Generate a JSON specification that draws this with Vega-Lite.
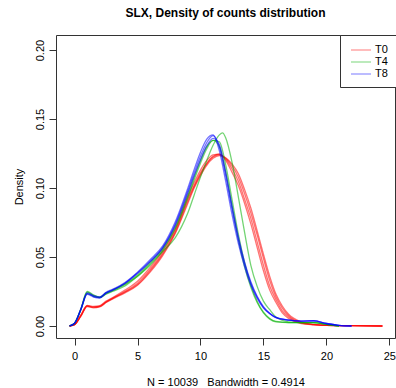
{
  "$schema": "https://vega.github.io/schema/vega-lite/v6.json",
  "width": 339,
  "height": 303,
  "autosize": "none",
  "padding": {"left": 56, "top": 35, "right": 1, "bottom": 50},
  "background": "white",
  "config": {
    "font": "Liberation Sans",
    "view": {"stroke": "#333", "strokeWidth": 1},
    "axis": {"grid": false, "domain": false, "tickColor": "#333", "tickSize": 7, "labelFont": "Liberation Sans", "titleFont": "Liberation Sans", "labelFontSize": 11, "titleFontSize": 11, "labelColor": "#000", "titleColor": "#000", "titleFontWeight": "normal"}
  },
  "title": {"text": "SLX, Density of counts distribution", "font": "Liberation Sans", "fontSize": 12, "fontWeight": "bold", "color": "#000", "offset": 15},
  "datasets": {
    "d": [
      {"s":"R1","g":"T0","x":-0.4,"y":0},{"s":"R1","g":"T0","x":0,"y":0.001},{"s":"R1","g":"T0","x":0.5,"y":0.0075},{"s":"R1","g":"T0","x":1,"y":0.0145},{"s":"R1","g":"T0","x":1.5,"y":0.0137},{"s":"R1","g":"T0","x":2,"y":0.0143},{"s":"R1","g":"T0","x":2.5,"y":0.0175},{"s":"R1","g":"T0","x":3,"y":0.02},{"s":"R1","g":"T0","x":4,"y":0.025},{"s":"R1","g":"T0","x":5,"y":0.031},{"s":"R1","g":"T0","x":6,"y":0.041},{"s":"R1","g":"T0","x":7,"y":0.053},{"s":"R1","g":"T0","x":8,"y":0.069},{"s":"R1","g":"T0","x":9,"y":0.092},{"s":"R1","g":"T0","x":9.5,"y":0.102},{"s":"R1","g":"T0","x":10,"y":0.111},{"s":"R1","g":"T0","x":10.5,"y":0.118},{"s":"R1","g":"T0","x":11,"y":0.123},{"s":"R1","g":"T0","x":11.5,"y":0.1245},{"s":"R1","g":"T0","x":12,"y":0.121},{"s":"R1","g":"T0","x":12.5,"y":0.114},{"s":"R1","g":"T0","x":13,"y":0.105},{"s":"R1","g":"T0","x":13.5,"y":0.092},{"s":"R1","g":"T0","x":14,"y":0.078},{"s":"R1","g":"T0","x":14.5,"y":0.061},{"s":"R1","g":"T0","x":15,"y":0.044},{"s":"R1","g":"T0","x":15.5,"y":0.029},{"s":"R1","g":"T0","x":16,"y":0.019},{"s":"R1","g":"T0","x":16.5,"y":0.011},{"s":"R1","g":"T0","x":17,"y":0.0065},{"s":"R1","g":"T0","x":18,"y":0.002},{"s":"R1","g":"T0","x":19,"y":0.001},{"s":"R1","g":"T0","x":20,"y":0.0004},{"s":"R1","g":"T0","x":22,"y":0.0002},{"s":"R1","g":"T0","x":24.45,"y":0},
      {"s":"R2","g":"T0","x":-0.4,"y":0},{"s":"R2","g":"T0","x":0,"y":0.001},{"s":"R2","g":"T0","x":0.5,"y":0.007},{"s":"R2","g":"T0","x":1,"y":0.014},{"s":"R2","g":"T0","x":1.5,"y":0.0132},{"s":"R2","g":"T0","x":2,"y":0.0138},{"s":"R2","g":"T0","x":2.5,"y":0.017},{"s":"R2","g":"T0","x":3,"y":0.0195},{"s":"R2","g":"T0","x":4,"y":0.024},{"s":"R2","g":"T0","x":5,"y":0.0295},{"s":"R2","g":"T0","x":6,"y":0.039},{"s":"R2","g":"T0","x":7,"y":0.051},{"s":"R2","g":"T0","x":8,"y":0.067},{"s":"R2","g":"T0","x":9,"y":0.089},{"s":"R2","g":"T0","x":9.5,"y":0.1},{"s":"R2","g":"T0","x":10,"y":0.109},{"s":"R2","g":"T0","x":10.5,"y":0.1165},{"s":"R2","g":"T0","x":11,"y":0.1215},{"s":"R2","g":"T0","x":11.5,"y":0.1235},{"s":"R2","g":"T0","x":12,"y":0.1215},{"s":"R2","g":"T0","x":12.5,"y":0.116},{"s":"R2","g":"T0","x":13,"y":0.108},{"s":"R2","g":"T0","x":13.5,"y":0.096},{"s":"R2","g":"T0","x":14,"y":0.082},{"s":"R2","g":"T0","x":14.5,"y":0.066},{"s":"R2","g":"T0","x":15,"y":0.049},{"s":"R2","g":"T0","x":15.5,"y":0.033},{"s":"R2","g":"T0","x":16,"y":0.021},{"s":"R2","g":"T0","x":16.5,"y":0.013},{"s":"R2","g":"T0","x":17,"y":0.0075},{"s":"R2","g":"T0","x":18,"y":0.0025},{"s":"R2","g":"T0","x":19,"y":0.001},{"s":"R2","g":"T0","x":20,"y":0.0004},{"s":"R2","g":"T0","x":22,"y":0.0002},{"s":"R2","g":"T0","x":24.45,"y":0},
      {"s":"R3","g":"T0","x":-0.4,"y":0},{"s":"R3","g":"T0","x":0,"y":0.001},{"s":"R3","g":"T0","x":0.5,"y":0.008},{"s":"R3","g":"T0","x":1,"y":0.015},{"s":"R3","g":"T0","x":1.5,"y":0.0142},{"s":"R3","g":"T0","x":2,"y":0.0148},{"s":"R3","g":"T0","x":2.5,"y":0.018},{"s":"R3","g":"T0","x":3,"y":0.0205},{"s":"R3","g":"T0","x":4,"y":0.026},{"s":"R3","g":"T0","x":5,"y":0.0325},{"s":"R3","g":"T0","x":6,"y":0.0425},{"s":"R3","g":"T0","x":7,"y":0.0545},{"s":"R3","g":"T0","x":8,"y":0.0705},{"s":"R3","g":"T0","x":9,"y":0.094},{"s":"R3","g":"T0","x":9.5,"y":0.104},{"s":"R3","g":"T0","x":10,"y":0.113},{"s":"R3","g":"T0","x":10.5,"y":0.12},{"s":"R3","g":"T0","x":11,"y":0.124},{"s":"R3","g":"T0","x":11.5,"y":0.1245},{"s":"R3","g":"T0","x":12,"y":0.12},{"s":"R3","g":"T0","x":12.5,"y":0.1115},{"s":"R3","g":"T0","x":13,"y":0.102},{"s":"R3","g":"T0","x":13.5,"y":0.089},{"s":"R3","g":"T0","x":14,"y":0.074},{"s":"R3","g":"T0","x":14.5,"y":0.057},{"s":"R3","g":"T0","x":15,"y":0.04},{"s":"R3","g":"T0","x":15.5,"y":0.026},{"s":"R3","g":"T0","x":16,"y":0.017},{"s":"R3","g":"T0","x":16.5,"y":0.0095},{"s":"R3","g":"T0","x":17,"y":0.0055},{"s":"R3","g":"T0","x":18,"y":0.0018},{"s":"R3","g":"T0","x":19,"y":0.0009},{"s":"R3","g":"T0","x":20,"y":0.0004},{"s":"R3","g":"T0","x":22,"y":0.0002},{"s":"R3","g":"T0","x":24.45,"y":0},
      {"s":"R4","g":"T0","x":-0.4,"y":0},{"s":"R4","g":"T0","x":0,"y":0.001},{"s":"R4","g":"T0","x":0.5,"y":0.0075},{"s":"R4","g":"T0","x":1,"y":0.0145},{"s":"R4","g":"T0","x":1.5,"y":0.0137},{"s":"R4","g":"T0","x":2,"y":0.0143},{"s":"R4","g":"T0","x":2.5,"y":0.0172},{"s":"R4","g":"T0","x":3,"y":0.0198},{"s":"R4","g":"T0","x":4,"y":0.0245},{"s":"R4","g":"T0","x":5,"y":0.03},{"s":"R4","g":"T0","x":6,"y":0.04},{"s":"R4","g":"T0","x":7,"y":0.052},{"s":"R4","g":"T0","x":8,"y":0.068},{"s":"R4","g":"T0","x":9,"y":0.0905},{"s":"R4","g":"T0","x":9.5,"y":0.101},{"s":"R4","g":"T0","x":10,"y":0.11},{"s":"R4","g":"T0","x":10.5,"y":0.1175},{"s":"R4","g":"T0","x":11,"y":0.1225},{"s":"R4","g":"T0","x":11.5,"y":0.124},{"s":"R4","g":"T0","x":12,"y":0.122},{"s":"R4","g":"T0","x":12.5,"y":0.1175},{"s":"R4","g":"T0","x":13,"y":0.1105},{"s":"R4","g":"T0","x":13.5,"y":0.099},{"s":"R4","g":"T0","x":14,"y":0.0855},{"s":"R4","g":"T0","x":14.5,"y":0.069},{"s":"R4","g":"T0","x":15,"y":0.052},{"s":"R4","g":"T0","x":15.5,"y":0.036},{"s":"R4","g":"T0","x":16,"y":0.023},{"s":"R4","g":"T0","x":16.5,"y":0.0145},{"s":"R4","g":"T0","x":17,"y":0.0085},{"s":"R4","g":"T0","x":18,"y":0.003},{"s":"R4","g":"T0","x":19,"y":0.0012},{"s":"R4","g":"T0","x":20,"y":0.0005},{"s":"R4","g":"T0","x":22,"y":0.0002},{"s":"R4","g":"T0","x":24.45,"y":0},
      {"s":"G1","g":"T4","x":-0.4,"y":0},{"s":"G1","g":"T4","x":0,"y":0.002},{"s":"G1","g":"T4","x":0.5,"y":0.0125},{"s":"G1","g":"T4","x":1,"y":0.025},{"s":"G1","g":"T4","x":1.5,"y":0.0225},{"s":"G1","g":"T4","x":2,"y":0.021},{"s":"G1","g":"T4","x":2.5,"y":0.024},{"s":"G1","g":"T4","x":3,"y":0.026},{"s":"G1","g":"T4","x":4,"y":0.0305},{"s":"G1","g":"T4","x":5,"y":0.037},{"s":"G1","g":"T4","x":6,"y":0.046},{"s":"G1","g":"T4","x":7,"y":0.056},{"s":"G1","g":"T4","x":8,"y":0.072},{"s":"G1","g":"T4","x":9,"y":0.095},{"s":"G1","g":"T4","x":9.5,"y":0.108},{"s":"G1","g":"T4","x":10,"y":0.12},{"s":"G1","g":"T4","x":10.5,"y":0.13},{"s":"G1","g":"T4","x":11,"y":0.1345},{"s":"G1","g":"T4","x":11.5,"y":0.13},{"s":"G1","g":"T4","x":12,"y":0.112},{"s":"G1","g":"T4","x":12.5,"y":0.087},{"s":"G1","g":"T4","x":13,"y":0.063},{"s":"G1","g":"T4","x":13.5,"y":0.043},{"s":"G1","g":"T4","x":14,"y":0.028},{"s":"G1","g":"T4","x":14.5,"y":0.017},{"s":"G1","g":"T4","x":15,"y":0.0095},{"s":"G1","g":"T4","x":15.5,"y":0.005},{"s":"G1","g":"T4","x":16,"y":0.003},{"s":"G1","g":"T4","x":17,"y":0.0025},{"s":"G1","g":"T4","x":18,"y":0.0025},{"s":"G1","g":"T4","x":19,"y":0.0025},{"s":"G1","g":"T4","x":20,"y":0.0012},{"s":"G1","g":"T4","x":21,"y":0},
      {"s":"G2","g":"T4","x":-0.4,"y":0},{"s":"G2","g":"T4","x":0,"y":0.002},{"s":"G2","g":"T4","x":0.5,"y":0.012},{"s":"G2","g":"T4","x":1,"y":0.0245},{"s":"G2","g":"T4","x":1.5,"y":0.022},{"s":"G2","g":"T4","x":2,"y":0.0208},{"s":"G2","g":"T4","x":2.5,"y":0.0235},{"s":"G2","g":"T4","x":3,"y":0.0255},{"s":"G2","g":"T4","x":4,"y":0.03},{"s":"G2","g":"T4","x":5,"y":0.036},{"s":"G2","g":"T4","x":6,"y":0.045},{"s":"G2","g":"T4","x":7,"y":0.055},{"s":"G2","g":"T4","x":8,"y":0.0705},{"s":"G2","g":"T4","x":9,"y":0.093},{"s":"G2","g":"T4","x":9.5,"y":0.106},{"s":"G2","g":"T4","x":10,"y":0.118},{"s":"G2","g":"T4","x":10.5,"y":0.1285},{"s":"G2","g":"T4","x":11,"y":0.1345},{"s":"G2","g":"T4","x":11.5,"y":0.1335},{"s":"G2","g":"T4","x":12,"y":0.117},{"s":"G2","g":"T4","x":12.5,"y":0.092},{"s":"G2","g":"T4","x":13,"y":0.067},{"s":"G2","g":"T4","x":13.5,"y":0.046},{"s":"G2","g":"T4","x":14,"y":0.03},{"s":"G2","g":"T4","x":14.5,"y":0.018},{"s":"G2","g":"T4","x":15,"y":0.01},{"s":"G2","g":"T4","x":15.5,"y":0.0055},{"s":"G2","g":"T4","x":16,"y":0.0033},{"s":"G2","g":"T4","x":17,"y":0.0025},{"s":"G2","g":"T4","x":18,"y":0.0025},{"s":"G2","g":"T4","x":19,"y":0.0025},{"s":"G2","g":"T4","x":20,"y":0.0012},{"s":"G2","g":"T4","x":21,"y":0},
      {"s":"G3","g":"T4","x":-0.4,"y":0},{"s":"G3","g":"T4","x":0,"y":0.002},{"s":"G3","g":"T4","x":0.5,"y":0.012},{"s":"G3","g":"T4","x":1,"y":0.0235},{"s":"G3","g":"T4","x":1.5,"y":0.0215},{"s":"G3","g":"T4","x":2,"y":0.0205},{"s":"G3","g":"T4","x":2.5,"y":0.023},{"s":"G3","g":"T4","x":3,"y":0.025},{"s":"G3","g":"T4","x":4,"y":0.029},{"s":"G3","g":"T4","x":5,"y":0.036},{"s":"G3","g":"T4","x":6,"y":0.044},{"s":"G3","g":"T4","x":7,"y":0.054},{"s":"G3","g":"T4","x":8,"y":0.064},{"s":"G3","g":"T4","x":8.5,"y":0.072},{"s":"G3","g":"T4","x":9,"y":0.082},{"s":"G3","g":"T4","x":9.5,"y":0.095},{"s":"G3","g":"T4","x":10,"y":0.108},{"s":"G3","g":"T4","x":10.5,"y":0.12},{"s":"G3","g":"T4","x":11,"y":0.131},{"s":"G3","g":"T4","x":11.5,"y":0.1385},{"s":"G3","g":"T4","x":11.75,"y":0.14},{"s":"G3","g":"T4","x":12,"y":0.1365},{"s":"G3","g":"T4","x":12.5,"y":0.119},{"s":"G3","g":"T4","x":13,"y":0.094},{"s":"G3","g":"T4","x":13.5,"y":0.068},{"s":"G3","g":"T4","x":14,"y":0.044},{"s":"G3","g":"T4","x":14.5,"y":0.0287},{"s":"G3","g":"T4","x":15,"y":0.018},{"s":"G3","g":"T4","x":15.5,"y":0.0118},{"s":"G3","g":"T4","x":16,"y":0.0065},{"s":"G3","g":"T4","x":16.5,"y":0.004},{"s":"G3","g":"T4","x":17,"y":0.003},{"s":"G3","g":"T4","x":18,"y":0.0025},{"s":"G3","g":"T4","x":19,"y":0.0025},{"s":"G3","g":"T4","x":20,"y":0.0012},{"s":"G3","g":"T4","x":21,"y":0},
      {"s":"B1","g":"T8","x":-0.4,"y":0},{"s":"B1","g":"T8","x":0,"y":0.002},{"s":"B1","g":"T8","x":0.5,"y":0.012},{"s":"B1","g":"T8","x":1,"y":0.0235},{"s":"B1","g":"T8","x":1.5,"y":0.0215},{"s":"B1","g":"T8","x":2,"y":0.0205},{"s":"B1","g":"T8","x":2.5,"y":0.024},{"s":"B1","g":"T8","x":3,"y":0.026},{"s":"B1","g":"T8","x":4,"y":0.031},{"s":"B1","g":"T8","x":5,"y":0.0385},{"s":"B1","g":"T8","x":6,"y":0.047},{"s":"B1","g":"T8","x":7,"y":0.057},{"s":"B1","g":"T8","x":8,"y":0.074},{"s":"B1","g":"T8","x":9,"y":0.098},{"s":"B1","g":"T8","x":9.5,"y":0.111},{"s":"B1","g":"T8","x":10,"y":0.123},{"s":"B1","g":"T8","x":10.5,"y":0.133},{"s":"B1","g":"T8","x":11,"y":0.138},{"s":"B1","g":"T8","x":11.5,"y":0.13},{"s":"B1","g":"T8","x":12,"y":0.109},{"s":"B1","g":"T8","x":12.5,"y":0.085},{"s":"B1","g":"T8","x":13,"y":0.063},{"s":"B1","g":"T8","x":13.5,"y":0.045},{"s":"B1","g":"T8","x":14,"y":0.031},{"s":"B1","g":"T8","x":14.5,"y":0.021},{"s":"B1","g":"T8","x":15,"y":0.0135},{"s":"B1","g":"T8","x":15.5,"y":0.009},{"s":"B1","g":"T8","x":16,"y":0.006},{"s":"B1","g":"T8","x":17,"y":0.0042},{"s":"B1","g":"T8","x":18,"y":0.0035},{"s":"B1","g":"T8","x":19,"y":0.0038},{"s":"B1","g":"T8","x":20,"y":0.0018},{"s":"B1","g":"T8","x":21,"y":0.0005},{"s":"B1","g":"T8","x":22,"y":0},
      {"s":"B2","g":"T8","x":-0.4,"y":0},{"s":"B2","g":"T8","x":0,"y":0.002},{"s":"B2","g":"T8","x":0.5,"y":0.0125},{"s":"B2","g":"T8","x":1,"y":0.024},{"s":"B2","g":"T8","x":1.5,"y":0.022},{"s":"B2","g":"T8","x":2,"y":0.021},{"s":"B2","g":"T8","x":2.5,"y":0.0245},{"s":"B2","g":"T8","x":3,"y":0.0265},{"s":"B2","g":"T8","x":4,"y":0.0315},{"s":"B2","g":"T8","x":5,"y":0.039},{"s":"B2","g":"T8","x":6,"y":0.048},{"s":"B2","g":"T8","x":7,"y":0.058},{"s":"B2","g":"T8","x":8,"y":0.0755},{"s":"B2","g":"T8","x":9,"y":0.1},{"s":"B2","g":"T8","x":9.5,"y":0.1135},{"s":"B2","g":"T8","x":10,"y":0.126},{"s":"B2","g":"T8","x":10.5,"y":0.1355},{"s":"B2","g":"T8","x":11,"y":0.1385},{"s":"B2","g":"T8","x":11.5,"y":0.127},{"s":"B2","g":"T8","x":12,"y":0.105},{"s":"B2","g":"T8","x":12.5,"y":0.081},{"s":"B2","g":"T8","x":13,"y":0.06},{"s":"B2","g":"T8","x":13.5,"y":0.043},{"s":"B2","g":"T8","x":14,"y":0.0295},{"s":"B2","g":"T8","x":14.5,"y":0.02},{"s":"B2","g":"T8","x":15,"y":0.013},{"s":"B2","g":"T8","x":15.5,"y":0.0088},{"s":"B2","g":"T8","x":16,"y":0.006},{"s":"B2","g":"T8","x":17,"y":0.0042},{"s":"B2","g":"T8","x":18,"y":0.0036},{"s":"B2","g":"T8","x":19,"y":0.0038},{"s":"B2","g":"T8","x":20,"y":0.0018},{"s":"B2","g":"T8","x":21,"y":0.0005},{"s":"B2","g":"T8","x":22,"y":0},
      {"s":"B3","g":"T8","x":-0.4,"y":0},{"s":"B3","g":"T8","x":0,"y":0.002},{"s":"B3","g":"T8","x":0.5,"y":0.0118},{"s":"B3","g":"T8","x":1,"y":0.023},{"s":"B3","g":"T8","x":1.5,"y":0.021},{"s":"B3","g":"T8","x":2,"y":0.0202},{"s":"B3","g":"T8","x":2.5,"y":0.0238},{"s":"B3","g":"T8","x":3,"y":0.0258},{"s":"B3","g":"T8","x":4,"y":0.0308},{"s":"B3","g":"T8","x":5,"y":0.038},{"s":"B3","g":"T8","x":6,"y":0.0465},{"s":"B3","g":"T8","x":7,"y":0.0565},{"s":"B3","g":"T8","x":8,"y":0.073},{"s":"B3","g":"T8","x":9,"y":0.0965},{"s":"B3","g":"T8","x":9.5,"y":0.109},{"s":"B3","g":"T8","x":10,"y":0.1205},{"s":"B3","g":"T8","x":10.5,"y":0.1305},{"s":"B3","g":"T8","x":11,"y":0.136},{"s":"B3","g":"T8","x":11.5,"y":0.1315},{"s":"B3","g":"T8","x":12,"y":0.1115},{"s":"B3","g":"T8","x":12.5,"y":0.0875},{"s":"B3","g":"T8","x":13,"y":0.065},{"s":"B3","g":"T8","x":13.5,"y":0.0465},{"s":"B3","g":"T8","x":14,"y":0.032},{"s":"B3","g":"T8","x":14.5,"y":0.0215},{"s":"B3","g":"T8","x":15,"y":0.014},{"s":"B3","g":"T8","x":15.5,"y":0.0092},{"s":"B3","g":"T8","x":16,"y":0.0062},{"s":"B3","g":"T8","x":17,"y":0.0043},{"s":"B3","g":"T8","x":18,"y":0.0035},{"s":"B3","g":"T8","x":19,"y":0.0037},{"s":"B3","g":"T8","x":20,"y":0.0018},{"s":"B3","g":"T8","x":21,"y":0.0005},{"s":"B3","g":"T8","x":22,"y":0}
    ]
  },
  "data": {"name": "d"},
  "mark": {"type": "line", "interpolate": "monotone", "strokeWidth": 1.3, "opacity": 0.55, "clip": true},
  "encoding": {
    "x": {"field": "x", "type": "quantitative", "scale": {"domain": [-1.476, 25.45], "nice": false, "zero": false},
      "axis": {"values": [0, 5, 10, 15, 20, 25], "title": "N = 10039\u00a0\u00a0\u00a0Bandwidth = 0.4914", "labelPadding": 5, "titlePadding": 15}},
    "y": {"field": "y", "type": "quantitative", "scale": {"domain": [-0.0087, 0.2109], "nice": false, "zero": false},
      "axis": {"values": [0, 0.05, 0.1, 0.15, 0.2], "format": ".2f", "title": "Density", "labelAngle": 270, "labelAlign": "center", "labelBaseline": "bottom", "labelPadding": 4, "titlePadding": 10}},
    "color": {"field": "g", "type": "nominal", "scale": {"domain": ["T0", "T4", "T8"], "range": ["#ff0000", "#00b000", "#0000ff"]},
      "legend": {"title": null, "orient": "none", "legendX": 284, "legendY": 0, "symbolType": "M-0.67,0H2.67", "symbolSize": 144, "symbolStrokeWidth": 1.3, "symbolOpacity": 0.4, "labelFontSize": 11, "labelFont": "Liberation Sans", "labelColor": "#000", "strokeColor": "#333", "fillColor": "white", "padding": 8, "rowPadding": 0, "labelOffset": 13}},
    "detail": {"field": "s", "type": "nominal"}
  }
}
